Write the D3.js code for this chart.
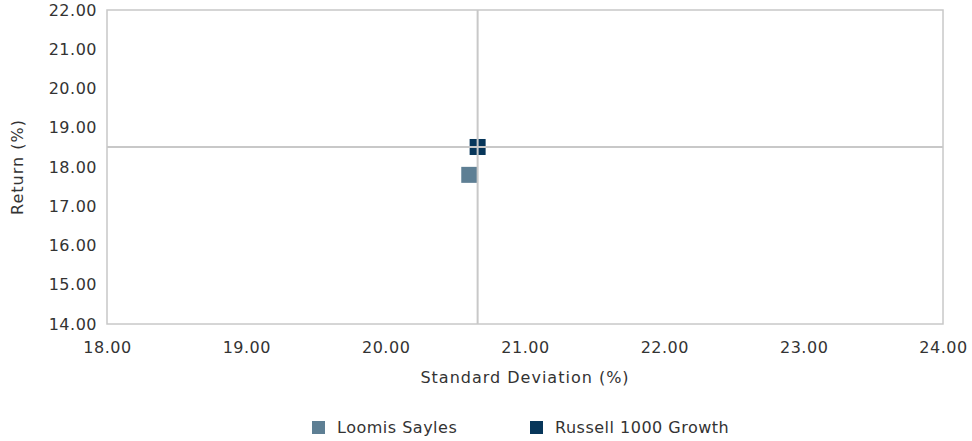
<!DOCTYPE html>
<html>
<head>
<meta charset="utf-8">
<script src="https://cdn.jsdelivr.net/npm/d3@7"></script>
<style>
  html, body { margin: 0; padding: 0; background: #fff; }
  svg text { font-family: "DejaVu Sans", sans-serif; fill: #333; font-size: 16px; letter-spacing: 0.5px; }
</style>
</head>
<body>
<svg id="chart" width="972" height="441"></svg>
<script>
// Risk / return scatter: annualised standard deviation vs return
const names = ["Loomis Sayles", "Russell 1000 Growth"];
const stdDev = [20.60, 20.66];
const returns = [17.80, 18.51];
const colors = ["#5e7f94", "#07365a"];
const xTicks = [18, 19, 20, 21, 22, 23, 24];
const yTicks = [14, 15, 16, 17, 18, 19, 20, 21, 22];
const benchmarkIndex = 1;

const svg = d3.select("#chart");
const margin = { left: 107, right: 29, top: 10, bottom: 117 };
const W = 972, H = 441;

const x = d3.scaleLinear().domain([18, 24]).range([margin.left, W - margin.right]);
const y = d3.scaleLinear().domain([14, 22]).range([H - margin.bottom, margin.top]);

// plot frame
svg.append("rect")
  .attr("x", x(18)).attr("y", y(22))
  .attr("width", x(24) - x(18)).attr("height", y(14) - y(22))
  .attr("fill", "none").attr("stroke", "#c8c8c8").attr("stroke-width", 1.5);

// y axis labels
const yAxis = d3.axisLeft(y).tickValues(yTicks).tickFormat(d3.format(".2f")).tickSize(0).tickPadding(10);
const gy = svg.append("g").attr("transform", `translate(${x(18)},0)`).call(yAxis);
gy.select(".domain").remove();
gy.selectAll("text").attr("font-family", null).attr("font-size", null).attr("fill", null);

// x axis labels
const xAxis = d3.axisBottom(x).tickValues(xTicks).tickFormat(d3.format(".2f")).tickSize(0).tickPadding(18);
const gx = svg.append("g").attr("transform", `translate(0,${y(14)})`).call(xAxis);
gx.select(".domain").remove();
gx.selectAll("text").attr("font-family", null).attr("font-size", null).attr("fill", null);
gy.attr("font-family", null).attr("font-size", null);
gx.attr("font-family", null).attr("font-size", null);

// axis titles
svg.append("text")
  .attr("x", (x(18) + x(24)) / 2).attr("y", 383)
  .attr("text-anchor", "middle").style("letter-spacing", "1px")
  .text("Standard Deviation (%)");
svg.append("text")
  .attr("transform", `translate(23,${(y(14) + y(22)) / 2}) rotate(-90)`)
  .attr("text-anchor", "middle").style("letter-spacing", "1px")
  .text("Return (%)");

// markers
const pts = names.map((n, i) => ({ name: n, sd: stdDev[i], ret: returns[i], color: colors[i] }));
const size = 16;
svg.append("g").selectAll("rect").data(pts).join("rect")
  .attr("x", d => x(d.sd) - size / 2)
  .attr("y", d => y(d.ret) - size / 2)
  .attr("width", size).attr("height", size)
  .attr("fill", d => d.color);

// benchmark crosshair
svg.append("line")
  .attr("x1", x(stdDev[benchmarkIndex])).attr("x2", x(stdDev[benchmarkIndex]))
  .attr("y1", y(22)).attr("y2", y(14))
  .attr("stroke", "#c8c8c8").attr("stroke-width", 2);
svg.append("line")
  .attr("x1", x(18)).attr("x2", x(24))
  .attr("y1", y(returns[benchmarkIndex])).attr("y2", y(returns[benchmarkIndex]))
  .attr("stroke", "#c8c8c8").attr("stroke-width", 2);

// legend
const legendX = [312, 530];
const lg = svg.append("g").selectAll("g").data(pts).join("g")
  .attr("transform", (d, i) => `translate(${legendX[i]},421)`);
lg.append("rect").attr("width", 13).attr("height", 13).attr("fill", d => d.color);
lg.append("text").attr("x", 25).attr("y", 12).text(d => d.name);
</script>
</body>
</html>
